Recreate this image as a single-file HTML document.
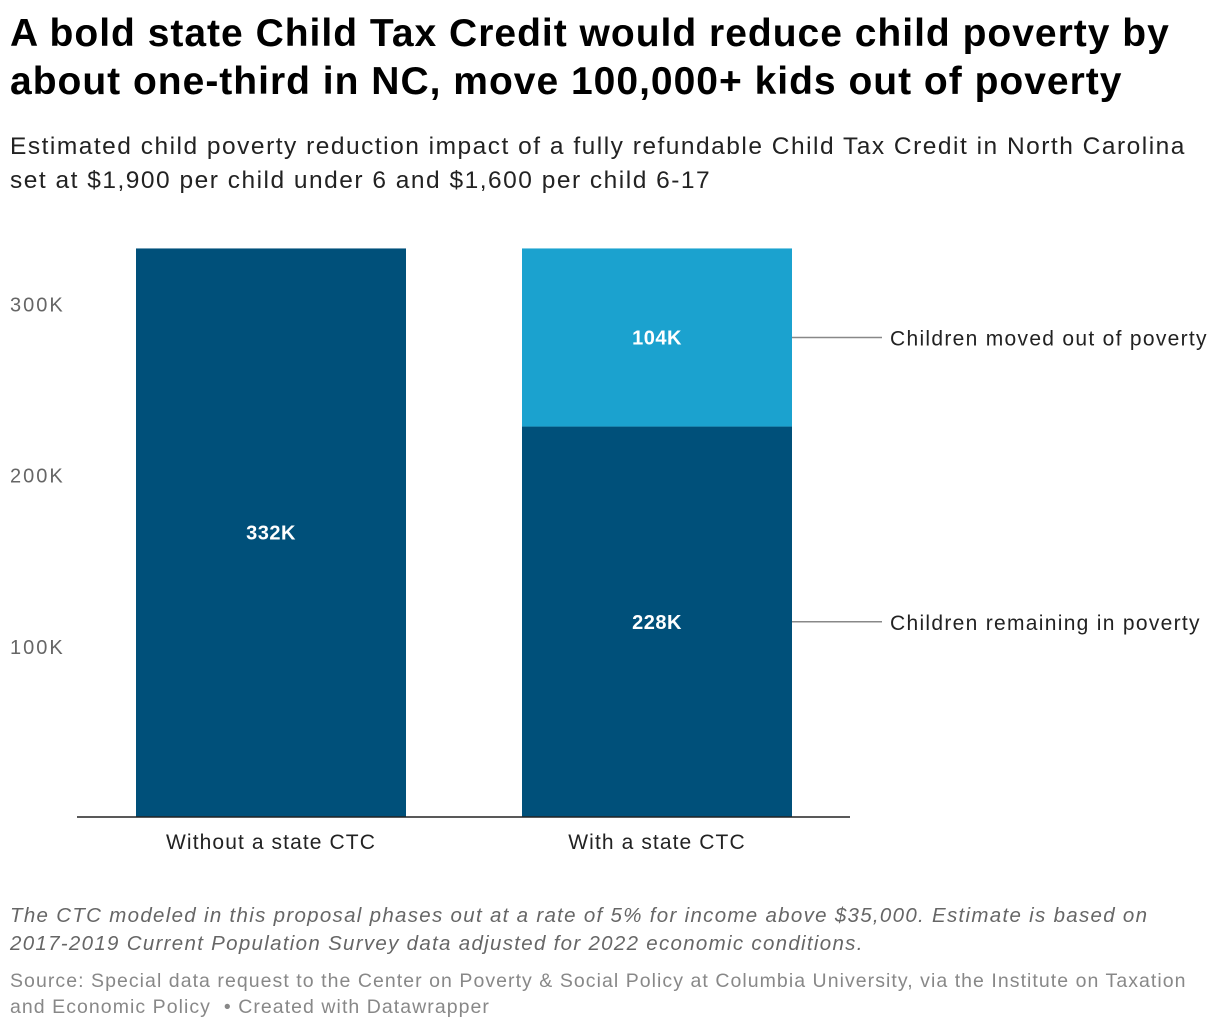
<!DOCTYPE html>
<html><head><meta charset="utf-8"><style>
body{margin:0;width:1220px;height:1030px;background:#fff;font-family:"Liberation Sans",Roboto,sans-serif;position:relative;overflow:hidden}
.t{position:absolute;left:10px;white-space:nowrap}
</style></head><body>
<div class="t" style="top:10px;font-size:39px;font-weight:bold;line-height:48px;color:#000;letter-spacing:1px">A bold state Child Tax Credit would reduce child poverty by<br>about one-third in NC, move 100,000+ kids out of poverty</div>
<div class="t" style="top:130px;font-size:24.5px;line-height:34px;color:#222;letter-spacing:1.5px">Estimated child poverty reduction impact of a fully refundable Child Tax Credit in North Carolina<br>set at $1,900 per child under 6 and $1,600 per child 6-17</div>
<svg id="chart" width="1220" height="880" style="position:absolute;left:0;top:0" font-family="Liberation Sans, sans-serif"></svg>
<div class="t" style="top:902px;font-size:20.5px;line-height:28px;color:#666;font-style:italic;letter-spacing:1.3px">The CTC modeled in this proposal phases out at a rate of 5% for income above $35,000. Estimate is based on<br>2017-2019 Current Population Survey data adjusted for 2022 economic conditions.</div>
<div class="t" style="top:968px;font-size:19.5px;line-height:26px;color:#888;letter-spacing:1.05px">Source: Special data request to the Center on Poverty &amp; Social Policy at Columbia University, via the Institute on Taxation<br>and Economic Policy &nbsp;• Created with Datawrapper</div>
<script>
const categories=["Without a state CTC","With a state CTC"];
const remaining=[332,228];
const movedOut=[0,104];
const ticks=[100,200,300];
const tickLabels=["100K","200K","300K"];
const seriesLabels=["Children remaining in poverty","Children moved out of poverty"];
const NS="http://www.w3.org/2000/svg";
const svg=document.getElementById('chart');
const base=817,k=1.7125;
const y=v=>base-v*k;
const xs=[136,522],bw=270;
function mk(t,a,txt){const e=document.createElementNS(NS,t);for(const n in a)e.setAttribute(n,a[n]);if(txt!=null)e.textContent=txt;svg.appendChild(e);return e;}
ticks.forEach((t,i)=>{const e=mk('text',{x:10,y:y(t)+8,'font-size':20,fill:'#666','letter-spacing':2},tickLabels[i]);

});
categories.forEach((c,i)=>{
 const r=mk('rect',{x:xs[i],y:y(remaining[i]),width:bw,height:remaining[i]*k,fill:'#00507a'});
 
 
 const lr=mk('text',{x:xs[i]+bw/2,y:y(remaining[i]/2)+7,'font-size':20,'font-weight':'bold',fill:'#fff','text-anchor':'middle','letter-spacing':0.5},remaining[i]+'K');
 
 
 if(movedOut[i]>0){
  const m=mk('rect',{x:xs[i],y:y(remaining[i]+movedOut[i]),width:bw,height:movedOut[i]*k,fill:'#1ba2cf'});
  
  
  const lm=mk('text',{x:xs[i]+bw/2,y:y(remaining[i]+movedOut[i]/2)+7,'font-size':20,'font-weight':'bold',fill:'#fff','text-anchor':'middle','letter-spacing':0.5},movedOut[i]+'K');
  
  
  const y1=y(remaining[i]+movedOut[i]/2),y2=y(remaining[i]/2);
  const a1=mk('line',{x1:xs[i]+bw,x2:882,y1:y1,y2:y1,stroke:'#888','stroke-width':1.5});
  
  
  const t1=mk('text',{x:890,y:y1+8,'font-size':21,fill:'#222','letter-spacing':1.3},seriesLabels[1]);
  
  
  const a2=mk('line',{x1:xs[i]+bw,x2:882,y1:y2,y2:y2,stroke:'#888','stroke-width':1.5});
  
  
  const t2=mk('text',{x:890,y:y2+8,'font-size':21,fill:'#222','letter-spacing':1.3},seriesLabels[0]);
  
  
 }
 const cl=mk('text',{x:xs[i]+bw/2,y:849,'font-size':21,fill:'#222','text-anchor':'middle','letter-spacing':1.1},c);
 
 
});
const ax=mk('line',{x1:77,x2:850,y1:base,y2:base,stroke:'#222','stroke-width':1.5});


</script>
</body></html>
